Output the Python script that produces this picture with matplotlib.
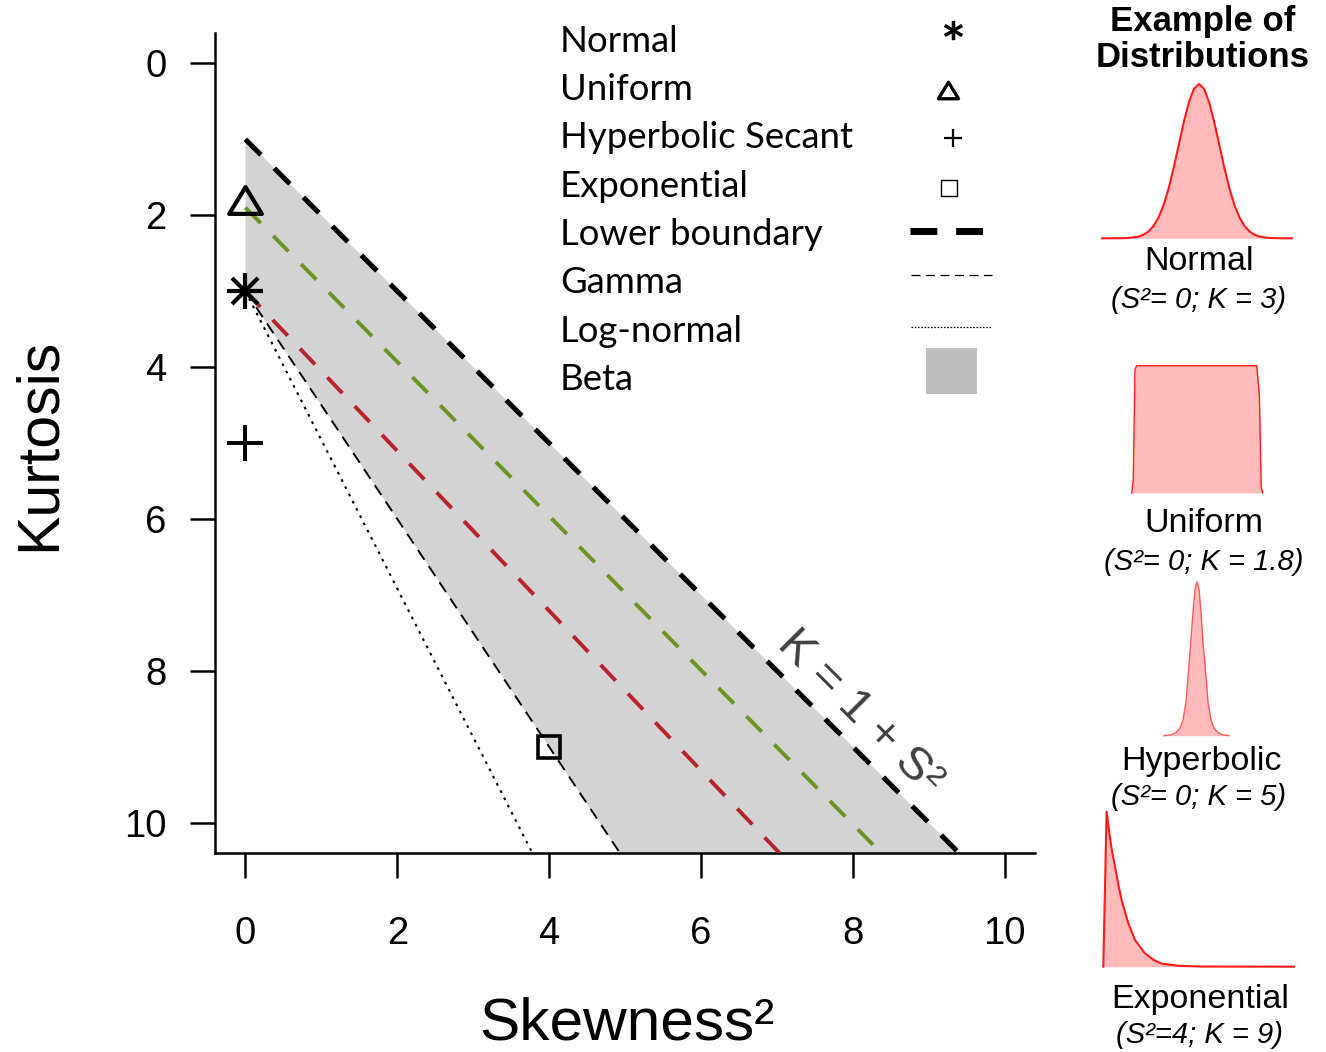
import matplotlib
matplotlib.use('Agg')
import matplotlib.pyplot as plt
from matplotlib.lines import Line2D
from matplotlib.patches import Rectangle
from matplotlib.path import Path

plt.rcParams['font.family'] = ['Liberation Sans', 'DejaVu Sans']

W, H = 1326, 1052

# ---------------- data ----------------
x_ticks = [0, 2, 4, 6, 8, 10]
y_ticks = [0, 2, 4, 6, 8, 10]

# K = 1 + S^2 (lower boundary)
lower_s2 = [0, 10]
lower_k = [1, 11]
# gamma line
gamma_s2 = [0, 5]
gamma_k = [3, 10.5]
# log-normal line
lognorm_s2 = [0, 3.8]
lognorm_k = [3, 10.44]
# coloured dashed lines inside the beta region
green_s2 = [0, 8.6]
green_k = [1.9, 10.63]
red_s2 = [0, 7.3]
red_k = [3, 10.68]

# theoretical points
point_names = ['Normal', 'Uniform', 'Hyperbolic Secant', 'Exponential']
point_s2 = [0, 0, 0, 4]
point_k = [3, 1.8, 5, 9]

legend_labels = ['Normal', 'Uniform', 'Hyperbolic Secant', 'Exponential',
                 'Lower boundary', 'Gamma', 'Log-normal', 'Beta']

# example density shapes (relative heights)
normal_x = [-4.8, -4.0, -3.5, -3.0, -2.75, -2.5, -2.25, -2.0, -1.75, -1.5, -1.25, -1.0,
            -0.75, -0.5, -0.25, 0, 0.25, 0.5, 0.75, 1.0, 1.25, 1.5, 1.75, 2.0, 2.25,
            2.5, 2.75, 3.0, 3.5, 4.0, 4.6]
normal_y = [0, 0.0003, 0.002, 0.011, 0.023, 0.044, 0.080, 0.135, 0.216, 0.325, 0.458,
            0.607, 0.755, 0.882, 0.969, 1.0, 0.969, 0.882, 0.755, 0.607, 0.458, 0.325,
            0.216, 0.135, 0.080, 0.044, 0.023, 0.011, 0.002, 0.0003, 0]

uniform_x = [0, 0.012, 0.025, 0.038, 0.955, 0.975, 0.988, 1.0]
uniform_y = [0, 0.10, 0.97, 1.0, 1.0, 0.76, 0.05, 0]

hyper_x = [-33, -26, -21, -17, -14, -11, -9, -7.5, -6, -4, -2, 0, 2, 4, 6, 7.5, 9, 11,
           14, 17, 21, 26, 32]
hyper_y = [0, 0.005, 0.02, 0.05, 0.10, 0.22, 0.38, 0.5, 0.63, 0.8, 0.95, 1.0, 0.95,
           0.8, 0.6, 0.5, 0.38, 0.22, 0.1, 0.05, 0.02, 0.005, 0]

expo_x = [0, 3.3, 6.7, 8.3, 11.7, 15.0, 18.3, 25.0, 31.7, 41.7, 50.0, 58.3, 75.0, 100.0,
          190.7]
expo_y = [0, 1.0, 0.83, 0.76, 0.645, 0.53, 0.43, 0.28, 0.172, 0.086, 0.045, 0.02,
          0.006, 0.001, 0.0]

example_names = ['Normal', 'Uniform', 'Hyperbolic', 'Exponential']
example_params = ['(S²= 0; K = 3)', '(S²= 0; K = 1.8)', '(S²= 0; K = 5)', '(S²=4; K = 9)']

# ---------------- helpers ----------------
def fx(px):
    return px / W


def fy(py):
    return 1 - py / H


tri = Path([(-1, -0.82), (1, -0.82), (0, 0.82), (-1, -0.82)], closed=True)

fig = plt.figure(figsize=(W / 100, H / 100), dpi=100)

ax = fig.add_axes([fx(215), fy(853), 820 / W, 820 / H])
ax.set_xlim(-0.4, 10.4)
ax.set_ylim(10.4, -0.4)

# beta region
beta_x = lower_s2 + gamma_s2[::-1]
beta_y = lower_k + gamma_k[::-1]
ax.fill(beta_x, beta_y, color='#d3d3d3', lw=0, zorder=1)

ax.plot(lower_s2, lower_k, color='black', lw=3.6, dashes=(4.4, 3.8), zorder=3)
ax.plot(gamma_s2, gamma_k, color='black', lw=1.4, dashes=(6, 4), zorder=3)
ax.plot(lognorm_s2, lognorm_k, color='black', lw=1.5, dashes=(1.3, 2.6), zorder=3)
ax.plot(green_s2, green_k, color='#6b9423', lw=2.8, dashes=(5.6, 4.6), zorder=3)
ax.plot(red_s2, red_k, color='#b8232b', lw=2.8, dashes=(5.6, 4.6), zorder=3)

# points
ax.plot(point_s2[0], point_k[0], marker='+', ms=26, mew=3.0, color='black',
        zorder=5, clip_on=False)
ax.plot(point_s2[0], point_k[0], marker='x', ms=19, mew=3.0, color='black',
        zorder=5, clip_on=False)
ax.plot(point_s2[1], point_k[1], marker=tri, ms=23.5, mew=3.0, mfc='none',
        mec='black', zorder=5, clip_on=False)
ax.plot(point_s2[2], point_k[2], marker='+', ms=26, mew=2.8, color='black',
        zorder=5, clip_on=False)
ax.plot(point_s2[3], point_k[3], marker='s', ms=15.5, mew=2.6, mfc='none',
        mec='black', zorder=5, clip_on=False)

ax.text(8.09, 8.55, 'K = 1 + S²', rotation=-45, rotation_mode='anchor',
        ha='center', va='center', fontsize=34, color='#404040', zorder=6)

# axes styling
for s in ['top', 'right']:
    ax.spines[s].set_visible(False)
for s in ['left', 'bottom']:
    ax.spines[s].set_linewidth(1.8)
ax.set_xticks(x_ticks)
ax.set_yticks(y_ticks)
ax.set_xticklabels([str(v) for v in x_ticks])
ax.set_yticklabels([str(v) for v in y_ticks])
ax.tick_params(axis='both', length=18, width=1.8, labelsize=27.5, direction='out')
ax.tick_params(axis='x', pad=27)
ax.tick_params(axis='y', pad=17)

ax.set_xlabel('Skewness²', fontsize=43.5, va='baseline')
ax.xaxis.set_label_coords((627 - 215) / 820, (853 - 1039) / 820)
ax.set_ylabel('Kurtosis', fontsize=42.5, va='baseline', rotation=90)
ax.yaxis.set_label_coords((55 - 215) / 820, (853 - 444) / 820)

# ---------------- legend (drawn manually) ----------------
leg_font = ['Lato', 'DejaVu Sans']
base0, step = 51.7, 48.3
for i, lab in enumerate(legend_labels):
    fig.text(fx(560), fy(base0 + i * step), lab, fontsize=26.3, family=leg_font,
             ha='left', va='baseline')


def fig_marker(px, py, **kw):
    fig.add_artist(Line2D([fx(px)], [fy(py)], transform=fig.transFigure,
                          linestyle='none', **kw))


fig_marker(953, 29.5, marker='$*$', ms=13, color='black')
fig_marker(948, 90, marker=tri, ms=14.5, mew=2.4, mfc='none', mec='black')
fig_marker(953, 138, marker='+', ms=12.5, mew=1.6, color='black')
fig_marker(949, 188.5, marker='s', ms=12, mew=1.0, mfc='none', mec='black')

fig.add_artist(Line2D([fx(910), fx(983)], [fy(231), fy(231)], transform=fig.transFigure,
                      color='black', lw=5, dashes=(3.86, 2.71)))
fig.add_artist(Line2D([fx(911), fx(992)], [fy(275), fy(275)], transform=fig.transFigure,
                      color='black', lw=0.9, dashes=(7.2, 4.4)))
fig.add_artist(Line2D([fx(911), fx(991)], [fy(327), fy(327)], transform=fig.transFigure,
                      color='black', lw=0.9, dashes=(1.3, 1.3)))
fig.add_artist(Rectangle((fx(926), fy(394)), 51 / W, 46 / H, transform=fig.transFigure,
                         color='#bebebe', lw=0))

# ---------------- example distributions ----------------
fig.text(fx(1203), fy(31), 'Example of', fontsize=25, weight='bold',
         ha='center', va='baseline')
fig.text(fx(1203), fy(67), 'Distributions', fontsize=25, weight='bold',
         ha='center', va='baseline')

pink = '#ffbaba'


def inset(left, top, right, bottom, xs, ys, xlim, lcolor, lw):
    a = fig.add_axes([fx(left), fy(bottom), (right - left) / W, (bottom - top) / H])
    a.fill_between(xs, ys, 0, color=pink, lw=0)
    a.plot(xs, ys, color=lcolor, lw=lw, clip_on=False)
    a.set_xlim(*xlim)
    a.set_ylim(0, 1)
    a.axis('off')
    return a


inset(1102, 84, 1292, 238.3, normal_x, normal_y, (-4.8, 4.6), '#ff1a1a', 1.5)
inset(1131.7, 365.7, 1262.7, 493, uniform_x, uniform_y, (0, 1), '#ff1a1a', 1.0)
inset(1164, 581.7, 1229.3, 735.7, hyper_x, hyper_y, (-33, 32.3), '#ff5a5a', 1.0)
inset(1103.3, 811.7, 1294, 966.7, expo_x, expo_y, (0, 190.7), '#ff1a1a', 1.5)

name_pos = [(1199, 270), (1204, 532), (1201, 770), (1200, 1008)]
param_pos = [(1199, 308), (1203.5, 570), (1199, 805), (1199, 1043)]
for nm, (cx, by) in zip(example_names, name_pos):
    fig.text(fx(cx), fy(by), nm, fontsize=24.5, ha='center', va='baseline')
for pm, (cx, by) in zip(example_params, param_pos):
    fig.text(fx(cx), fy(by), pm, fontsize=21, style='italic', ha='center', va='baseline')

fig.savefig('out.png', dpi=100)
